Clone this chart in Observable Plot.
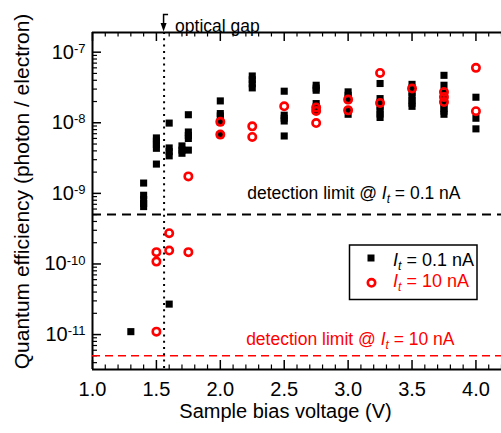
<!DOCTYPE html>
<html>
<head>
<meta charset="utf-8">
<script src="https://cdn.jsdelivr.net/npm/d3@7"></script>
<script src="https://cdn.jsdelivr.net/npm/@observablehq/plot@0.6"></script>
<style>
  html, body { margin: 0; padding: 0; background: #fff; }
  #chart svg { display: block; }
</style>
</head>
<body>
<div id="chart"></div>
<script>
// ---------- data ----------
// I_t = 0.1 nA (black squares): bias voltage and the QE values measured at it
const lowBias = [1.3, 1.4, 1.5, 1.6, 1.7, 1.75, 2.0, 2.25, 2.5, 2.75, 3.0, 3.25, 3.5, 3.75, 4.0];
const lowQE = [
  [1.1e-11],
  [1.4e-9, 9.4e-10, 8.2e-10, 7.2e-10, 6.5e-10],
  [6.1e-9, 5.5e-9, 4.9e-9, 4.35e-9, 2.6e-9],
  [9.9e-9, 4.4e-9, 3.9e-9, 3.4e-9, 2.7e-11],
  [4.7e-9, 4.1e-9, 3.7e-9],
  [1.3e-8, 7.4e-9, 6.6e-9, 6.0e-9, 4.1e-9],
  [2.04e-8, 1.35e-8, 1.25e-8, 1.03e-8, 6.8e-9],
  [4.6e-8, 4.07e-8, 3.57e-8, 3.12e-8],
  [2.8e-8, 1.28e-8, 1.16e-8, 1.06e-8, 6.5e-9],
  [3.4e-8, 3.1e-8, 2.89e-8, 1.87e-8, 1.69e-8, 1.5e-8],
  [2.74e-8, 2.45e-8, 2.2e-8, 1.5e-8, 1.32e-8],
  [3.6e-8, 2.2e-8, 1.95e-8, 1.71e-8, 1.5e-8, 1.33e-8, 1.19e-8],
  [3.5e-8, 3.1e-8, 2.7e-8, 2.38e-8, 2.09e-8, 1.89e-8, 1.71e-8],
  [4.7e-8, 3.4e-8, 2.65e-8, 2.38e-8, 2.09e-8, 1.83e-8, 1.6e-8, 1.46e-8, 1.32e-8],
  [2.3e-8, 1.16e-8, 8.2e-9]
];
// I_t = 10 nA (red open circles)
const highBias = [1.5, 1.6, 1.75, 2.0, 2.25, 2.5, 2.75, 3.0, 3.25, 3.5, 3.75, 4.0];
const highQE = [
  [1.47e-10, 1.08e-10, 1.1e-11],
  [2.73e-10, 1.55e-10],
  [1.74e-9, 1.47e-10],
  [1.03e-8, 6.8e-9],
  [8.9e-9, 6.3e-9],
  [1.71e-8],
  [1.64e-8, 1.47e-8, 9.9e-9],
  [2.13e-8, 1.5e-8],
  [5.08e-8, 1.91e-8],
  [3.05e-8],
  [2.73e-8, 2.32e-8, 1.97e-8],
  [6.0e-8, 1.46e-8]
];
const detectionLimits = [5e-10, 5e-12];
const detectionLabels = ["detection limit @ I_t = 0.1 nA", "detection limit @ I_t = 10 nA"];
const seriesLabels = ["I_t = 0.1 nA", "I_t = 10 nA"];
const opticalGap = 1.56;
const opticalGapLabel = "optical gap";
const xTicks = [1.0, 1.5, 2.0, 2.5, 3.0, 3.5, 4.0];
const yTicks = [1e-11, 1e-10, 1e-9, 1e-8, 1e-7];
const xLabel = "Sample bias voltage (V)";
const yLabel = "Quantum efficiency (photon / electron)";

// ---------- layout ----------
const W = 501, H = 433;
const mL = 92, mR = 0, mT = 32, mB = 64;
const innerW = W - mL - mR, innerH = H - mT - mB;
const xDomain = [1.0, 4.2];
const yDomain = [3.2e-12, 1.9e-7];
const RED = "#ff0000";
const FONT = "'Liberation Sans', Arial, Helvetica, sans-serif";

const low = lowBias.flatMap((v, i) => lowQE[i].map(q => ({v, q})));
const high = highBias.flatMap((v, i) => highQE[i].map(q => ({v, q})));

const xMinor = d3.range(10, 43).map(d => d / 10).filter(d => !xTicks.some(t => Math.abs(t - d) < 1e-9));
const yMinor = [];
for (let e = -12; e <= -7; e++) for (let k = 2; k <= 9; k++) {
  const v = k * Math.pow(10, e);
  if (v > yDomain[0] && v < yDomain[1]) yMinor.push(v);
}

const chart = Plot.plot({
  width: W, height: H,
  marginLeft: mL, marginRight: mR, marginTop: mT, marginBottom: mB,
  style: {fontFamily: FONT, fontSize: "20px", background: "#fff", color: "#000", overflow: "visible"},
  x: {domain: xDomain},
  y: {type: "log", domain: yDomain},
  marks: [
    Plot.axisX({ticks: xTicks, tickSize: 0, tickPadding: 12, tickFormat: d3.format(".1f"), fontSize: 20, label: null}),
    Plot.axisY({ticks: yTicks, tickSize: 0, tickPadding: 7, tickFormat: d => "10^" + Math.round(Math.log10(d)), fontSize: 20, label: null}),
    // ticks (inward) on bottom, top, left
    Plot.ruleX(xTicks, {insetTop: innerH - 9, strokeWidth: 1.5}),
    Plot.ruleX(xTicks, {insetBottom: innerH - 9, strokeWidth: 1.5}),
    Plot.ruleX(xMinor, {insetTop: innerH - 4.5, strokeWidth: 1.2}),
    Plot.ruleX(xMinor, {insetBottom: innerH - 4.5, strokeWidth: 1.2}),
    Plot.ruleY(yTicks, {insetRight: innerW - 9, strokeWidth: 1.5}),
    Plot.ruleY(yMinor, {insetRight: innerW - 5, strokeWidth: 1.2}),
    // frame (left, top, bottom)
    Plot.ruleY([yDomain[0], yDomain[1]], {strokeWidth: 2}),
    Plot.ruleX([xDomain[0]], {strokeWidth: 2}),
    // detection limits
    Plot.ruleY([detectionLimits[0]], {stroke: "#000", strokeWidth: 2, strokeDasharray: "9,6"}),
    Plot.ruleY([detectionLimits[1]], {stroke: RED, strokeWidth: 1.5, strokeDasharray: "8,5"}),
    // optical gap
    Plot.ruleX([opticalGap], {stroke: "#000", strokeWidth: 2, strokeDasharray: "2,4.3"}),
    Plot.text([opticalGapLabel], {x: opticalGap, frameAnchor: "top", dx: 11, dy: -13, textAnchor: "start", fontSize: 17.5}),
    // data
    Plot.dot(low, {x: "v", y: "q", symbol: "square", r: 4, fill: "#000", stroke: null}),
    Plot.dot(high, {x: "v", y: "q", r: 3.7, stroke: RED, strokeWidth: 2.6, fill: "none"}),
    // detection labels
    Plot.text([detectionLabels[0]], {y: detectionLimits[0], frameAnchor: "right", dx: -41, dy: -21, textAnchor: "end", fontSize: 17.5, fill: "#000"}),
    Plot.text([detectionLabels[1]], {y: detectionLimits[1], frameAnchor: "right", dx: -47, dy: -16, textAnchor: "end", fontSize: 17.5, fill: RED})
  ]
});
document.getElementById("chart").appendChild(chart);

// ---------- rich text post-processing ----------
function setRich(el, str) {
  const parts = str.split("I_t");
  const t = d3.select(el);
  t.text(null);
  parts.forEach((p, i) => {
    if (i > 0) {
      t.append("tspan").attr("font-style", "italic").text("I");
      t.append("tspan").attr("font-style", "italic").attr("font-size", "0.68em").attr("dy", "0.32em").text("t");
      t.append("tspan").attr("dy", "-0.22em").text(p);
    } else if (p) {
      t.append("tspan").text(p);
    }
  });
}
const svg = d3.select(chart);
svg.selectAll("text").each(function() {
  const s = this.textContent;
  if (s.includes("I_t")) setRich(this, s);
  else if (/^10\^-?\d+$/.test(s)) {
    const exp = s.split("^")[1];
    const t = d3.select(this);
    t.text(null);
    t.append("tspan").text("10");
    t.append("tspan").attr("font-size", "13px").attr("dy", "-0.45em").text(exp);
  }
});

// ---------- axis titles ----------
const titles = svg.append("g").attr("font-family", FONT).attr("fill", "#000").attr("text-anchor", "middle");
titles.append("text").attr("x", mL + innerW / 2 - 11).attr("y", H - 15).attr("font-size", 20).text(xLabel);
titles.append("text").attr("transform", `translate(29,${mT + innerH / 2 - 9}) rotate(-90)`).attr("font-size", 21).text(yLabel);

// ---------- optical gap arrow ----------
const xs = chart.scale("x");
const gx = xs.apply(opticalGap);
svg.append("path").attr("d", `M${gx + 4.5},14.5 H${gx} V25`).attr("stroke", "#000").attr("fill", "none").attr("stroke-width", 1.5);
svg.append("path").attr("d", `M${gx - 3},23 L${gx + 3},23 L${gx},31.5 Z`).attr("fill", "#000");

// ---------- legend ----------
const lg = svg.append("g").attr("font-family", FONT).attr("font-size", 18).attr("text-anchor", "start");
lg.append("rect").attr("x", 349.5).attr("y", 245).attr("width", 127.5).attr("height", 54.5)
  .attr("fill", "#fff").attr("stroke", "#000").attr("stroke-width", 1.5);
lg.append("rect").attr("x", 367.5).attr("y", 254.5).attr("width", 7).attr("height", 7).attr("fill", "#000");
lg.append("circle").attr("cx", 371.5).attr("cy", 282.8).attr("r", 3.7).attr("fill", "none").attr("stroke", RED).attr("stroke-width", 2.6);
const lt1 = lg.append("text").attr("x", 393).attr("y", 266).attr("fill", "#000").node();
setRich(lt1, seriesLabels[0]);
const lt2 = lg.append("text").attr("x", 393).attr("y", 287).attr("fill", RED).node();
setRich(lt2, seriesLabels[1]);
</script>
</body>
</html>
